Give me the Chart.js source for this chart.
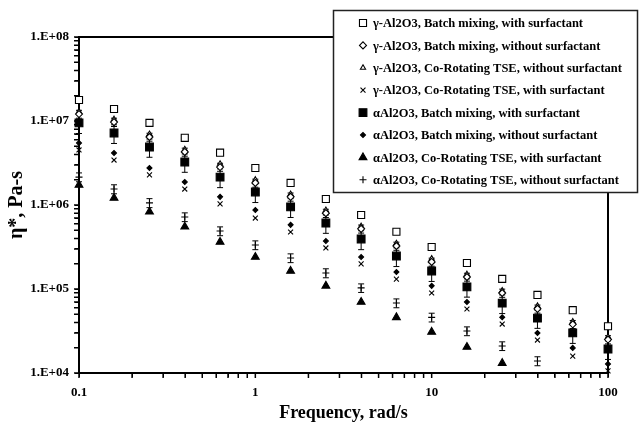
<!DOCTYPE html>
<html>
<head>
<meta charset="utf-8">
<script src="https://cdn.jsdelivr.net/npm/chart.js@4.4.1/dist/chart.umd.min.js"></script>
<style>
  html, body { margin: 0; padding: 0; background: #fff; }
  #wrap { width: 640px; height: 422px; position: relative; }
</style>
</head>
<body>
<div id="wrap"><canvas id="chart-eta"></canvas></div>
<script>
// ── DATA ─────────────────────────────────────────────────────────────────
const FREQ = [0.1, 0.158, 0.251, 0.398, 0.631, 1, 1.585, 2.512, 3.981, 6.31, 10, 15.85, 25.12, 39.81, 63.1, 100];

const LABELS = [
  'γ-Al2O3, Batch mixing, with surfactant',
  'γ-Al2O3, Batch mixing, without surfactant',
  'γ-Al2O3, Co-Rotating TSE, without surfactant',
  'γ-Al2O3, Co-Rotating TSE, with surfactant',
  'αAl2O3, Batch mixing, with surfactant',
  'αAl2O3, Batch mixing, without surfactant',
  'αAl2O3, Co-Rotating TSE, with surfactant',
  'αAl2O3, Co-Rotating TSE, without surfactant'
];

const G_BATCH_SURF   = [1.78e7, 1.39e7, 9.5e6, 6.3e6, 4.2e6, 2.76e6, 1.83e6, 1.18e6, 7.6e5, 4.8e5, 3.16e5, 2.04e5, 1.32e5, 8.5e4, 5.6e4, 3.6e4];
const G_BATCH_NOSURF = [1.21e7, 9.7e6, 6.45e6, 4.28e6, 2.83e6, 1.83e6, 1.25e6, 8.0e5, 5.2e5, 3.25e5, 2.1e5, 1.39e5, 8.96e4, 5.8e4, 3.8e4, 2.5e4];
const G_TSE_NOSURF   = [1.3e7, 1.05e7, 7.0e6, 4.6e6, 3.1e6, 2.0e6, 1.35e6, 8.7e5, 5.6e5, 3.5e5, 2.3e5, 1.5e5, 9.6e4, 6.3e4, 4.1e4, 2.7e4];
const G_TSE_SURF     = [4.52e6, 3.43e6, 2.28e6, 1.55e6, 1.03e6, 7.0e5, 4.77e5, 3.08e5, 1.99e5, 1.31e5, 8.96e4, 5.78e4, 3.83e4, 2.47e4, 1.59e4, 1.06e4];
const A_BATCH_SURF   = [9.5e6, 7.2e6, 4.9e6, 3.25e6, 2.15e6, 1.43e6, 9.5e5, 6.1e5, 3.94e5, 2.47e5, 1.64e5, 1.06e5, 6.8e4, 4.5e4, 3.0e4, 1.93e4];
const A_BATCH_NOSURF = [5.47e6, 4.16e6, 2.76e6, 1.88e6, 1.25e6, 8.7e5, 5.8e5, 3.72e5, 2.4e5, 1.59e5, 1.09e5, 7.0e4, 4.6e4, 3.0e4, 1.99e4, 1.28e4];
const A_TSE_SURF     = [1.73e6, 1.21e6, 8.3e5, 5.5e5, 3.63e5, 2.4e5, 1.64e5, 1.09e5, 7.0e4, 4.6e4, 3.08e4, 2.04e4, 1.31e4, null, null, null];
const A_TSE_NOSURF   = [2.15e6, 1.55e6, 1.06e6, 7.2e5, 4.9e5, 3.34e5, 2.34e5, 1.55e5, 1.03e5, 6.8e4, 4.6e4, 3.16e4, 2.1e4, 1.39e4, null, null];

// error bars (± absolute)
const ERR_A_BATCH_SURF   = [2.4e6, 1.8e6, 1.2e6, 8.0e5, 5.4e5, 3.6e5, 2.4e5, 1.5e5, 1.0e5, 6.2e4, 4.1e4, 2.6e4, 1.7e4, 1.1e4, 7.5e3, 4.8e3];
const ERR_G_BATCH_NOSURF = [1.3e6, 1.1e6, 7.0e5, 4.7e5, 3.1e5, 2.0e5, 1.4e5, 9.0e4, 5.7e4, 3.6e4, 2.3e4, 1.5e4, 1.0e4, 6.4e3, 4.2e3, 2.8e3];
const ERR_A_TSE_NOSURF   = [2.6e5, 1.9e5, 1.3e5, 8.6e4, 5.9e4, 4.0e4, 2.8e4, 1.9e4, 1.2e4, 8.2e3, 5.5e3, 3.8e3, 2.5e3, 1.7e3, null, null];

const X_TICKS = [0.1, 1, 10, 100];

// ── HELPERS ──────────────────────────────────────────────────────────────
const pts = arr => FREQ.map((f, i) => ({ x: f, y: arr[i] }));
const isDecade = v => Math.abs(Math.log10(v) - Math.round(Math.log10(v))) < 1e-6;

// major + minor (2..9) log ticks between two decades
function logTicks(minExp, maxExp) {
  const out = [];
  for (let e = minExp; e < maxExp; e++) {
    for (let m = 1; m < 10; m++) out.push({ value: m * Math.pow(10, e) });
  }
  out.push({ value: Math.pow(10, maxExp) });
  return out;
}

function series(label, values, style, radius, filled, errors) {
  return {
    label, data: pts(values), errors,
    pointStyle: style, pointRadius: radius, pointHoverRadius: radius,
    backgroundColor: filled ? '#000' : '#fff',
    borderColor: '#000', borderWidth: 1.1,
    showLine: false, clip: false,
  };
}

// ── PLUGINS ──────────────────────────────────────────────────────────────
// plot frame, outward tick marks (major + minor), and error bars
const frameAndErrors = {
  id: 'frameAndErrors',
  afterDatasetsDraw(chart) {
    const { ctx, chartArea: a, scales: { x, y } } = chart;
    ctx.save();
    ctx.strokeStyle = '#000';
    ctx.lineWidth = 1.5;
    ctx.beginPath();
    logTicks(4, 8).forEach(t => {
      const py = y.getPixelForValue(t.value);
      ctx.moveTo(a.left - 5, py); ctx.lineTo(a.left, py);
    });
    logTicks(-1, 2).forEach(t => {
      const px = x.getPixelForValue(t.value);
      ctx.moveTo(px, a.bottom); ctx.lineTo(px, a.bottom + 5);
    });
    ctx.stroke();
    ctx.restore();
  },
  beforeDatasetsDraw(chart) {
    const { ctx, chartArea: a, scales: { x, y } } = chart;
    ctx.save();
    ctx.strokeStyle = '#000';
    ctx.lineWidth = 2;
    ctx.strokeRect(a.left, a.top, a.right - a.left, a.bottom - a.top);

    ctx.lineWidth = 1;
    chart.data.datasets.forEach(ds => {
      if (!ds.errors) return;
      ds.data.forEach((p, i) => {
        const e = ds.errors[i];
        if (p.y == null || e == null) return;
        const px = x.getPixelForValue(p.x);
        const t = y.getPixelForValue(p.y + e);
        const b = y.getPixelForValue(p.y - e);
        ctx.beginPath();
        ctx.moveTo(px, t); ctx.lineTo(px, b);
        ctx.moveTo(px - 3, t); ctx.lineTo(px + 3, t);
        ctx.moveTo(px - 3, b); ctx.lineTo(px + 3, b);
        ctx.stroke();
      });
    });
    ctx.restore();
  }
};

const legendBox = {
  id: 'legendBox',
  afterDraw(chart) {
    const ctx = chart.ctx;
    ctx.save();
    ctx.fillStyle = '#fff';
    ctx.fillRect(333, 10, 305, 183);
    ctx.strokeStyle = '#222';
    ctx.lineWidth = 1.5;
    ctx.strokeRect(333.5, 10.5, 304, 182);

    ctx.font = 'bold 12.5px "Liberation Serif", serif';
    ctx.textBaseline = 'middle';
    ctx.textAlign = 'left';
    chart.data.datasets.forEach((ds, i) => {
      const yy = 23 + i * 22.4;
      ctx.fillStyle = ds.backgroundColor;
      ctx.strokeStyle = ds.borderColor;
      ctx.lineWidth = ds.borderWidth;
      Chart.helpers.drawPoint(ctx, {
        pointStyle: ds.pointStyle, radius: ds.pointRadius, rotation: 0, borderWidth: ds.borderWidth
      }, 363, yy);
      ctx.fillStyle = '#000';
      ctx.fillText(ds.label, 373, yy + 1);
    });
    ctx.restore();
  }
};

// ── CHART ────────────────────────────────────────────────────────────────
Chart.defaults.color = '#000';
Chart.defaults.font.family = "'Liberation Serif', serif";

new Chart(document.getElementById('chart-eta'), {
  type: 'scatter',
  data: {
    datasets: [
      series(LABELS[0], G_BATCH_SURF,   'rect',     5,   false),
      series(LABELS[1], G_BATCH_NOSURF, 'rectRot',  3.5, false, ERR_G_BATCH_NOSURF),
      series(LABELS[2], G_TSE_NOSURF,   'triangle', 3,   false),
      series(LABELS[3], G_TSE_SURF,     'crossRot', 3.5, false),
      series(LABELS[4], A_BATCH_SURF,   'rect',     5.5, true, ERR_A_BATCH_SURF),
      series(LABELS[5], A_BATCH_NOSURF, 'rectRot',  2.5, true),
      series(LABELS[6], A_TSE_SURF,     'triangle', 4.5, true),
      series(LABELS[7], A_TSE_NOSURF,   'cross',    3.5, false, ERR_A_TSE_NOSURF),
    ]
  },
  options: {
    responsive: true, maintainAspectRatio: false,
    animation: false,
    layout: { padding: { top: 37, right: 32, left: 0, bottom: 0 } },
    plugins: { legend: { display: false }, tooltip: { enabled: false } },
    scales: {
      x: {
        type: 'logarithmic', position: 'bottom',
        min: 0.1, max: 100,
        afterBuildTicks: s => { s.ticks = logTicks(-1, 2); },
        afterFit: s => { s.height = 49; },
        border: { display: true, color: '#000', width: 2 },
        grid: { drawOnChartArea: false, drawTicks: true, tickLength: 4, color: '#000' },
        ticks: {
          source: 'ticks', autoSkip: false, maxRotation: 0, padding: 8,
          font: { size: 13, weight: 'bold' },
          callback: v => X_TICKS.some(t => Math.abs(Math.log10(t) - Math.log10(v)) < 1e-6) ? String(v) : ''
        },
        title: {
          display: true, text: 'Frequency, rad/s',
          font: { size: 18, weight: 'bold', lineHeight: 1 },
          padding: { top: 0, bottom: 0 }
        }
      },
      y: {
        type: 'logarithmic',
        min: 1e4, max: 1e8,
        afterBuildTicks: s => { s.ticks = logTicks(4, 8); },
        afterFit: s => { s.width = 79; },
        border: { display: true, color: '#000', width: 2 },
        grid: { drawOnChartArea: false, drawTicks: true, tickLength: 4, color: '#000' },
        ticks: {
          source: 'ticks', autoSkip: false, padding: 6,
          font: { size: 13, weight: 'bold' },
          callback: v => isDecade(v) ? '1.E+' + String(Math.round(Math.log10(v))).padStart(2, '0') : ''
        },
        title: {
          display: true, text: 'η*, Pa-s',
          font: { size: 20, weight: 'bold', lineHeight: 1.2 },
          padding: { top: 5, bottom: 0 }
        }
      }
    }
  },
  plugins: [frameAndErrors, legendBox]
});
</script>
</body>
</html>
